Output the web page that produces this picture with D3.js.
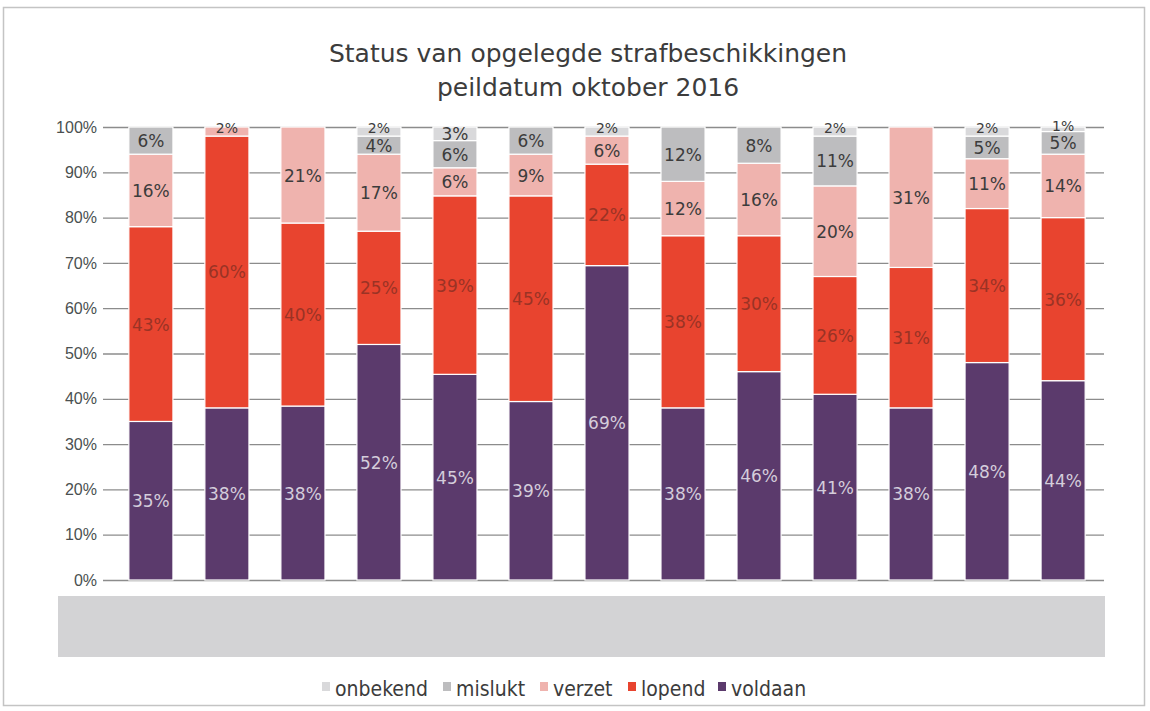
<!DOCTYPE html>
<html>
<head>
<meta charset="utf-8">
<script src="https://cdn.jsdelivr.net/npm/d3@7"></script>
<style>
  body { margin: 0; background: #fff; }
  svg { font-family: 'DejaVu Sans', Verdana, sans-serif; }
</style>
</head>
<body>
<svg width="1150" height="711"></svg>
<script>
// category names are covered in the source image
const categories = ['1', '2', '3', '4', '5', '6', '7', '8', '9', '10', '11', '12', '13'];
const voldaan  = [35, 38, 38.4, 52, 45.4, 39.4, 69.4, 38, 46, 41, 38, 48, 44];
const lopend   = [43, 60, 40.4, 25, 39.4, 45.4, 22.4, 38, 30, 26, 31, 34, 36];
const verzet   = [16,  2, 21.2, 17,  6.2,  9.2,  6.2, 12, 16, 20, 31, 11, 14];
const mislukt  = [ 6,  0,  0,  4,  6,  6,  0, 12,  8, 11,  0,  5,  5];
const onbekend = [ 0,  0,  0,  2,  3,  0,  2,  0,  0,  2,  0,  2,  1];
const seriesNames = ['voldaan', 'lopend', 'verzet', 'mislukt', 'onbekend'];
const legendOrder = ['onbekend', 'mislukt', 'verzet', 'lopend', 'voldaan'];
const yTicks = [0, 10, 20, 30, 40, 50, 60, 70, 80, 90, 100];

const colors = {
  voldaan: '#5b3a6c',
  lopend: '#e8442f',
  verzet: '#efb3ae',
  mislukt: '#bdbdbf',
  onbekend: '#d9d9db'
};
const labelColors = {
  voldaan: '#d4cddb',
  lopend: '#9a3325',
  verzet: '#3c3c3c',
  mislukt: '#3c3c3c',
  onbekend: '#3c3c3c'
};

const svg = d3.select('svg');
const values = { voldaan, lopend, verzet, mislukt, onbekend };
const rows = categories.map((c, i) => {
  const r = { cat: c };
  seriesNames.forEach(s => r[s] = values[s][i]);
  return r;
});

// frame
svg.append('rect')
    .attr('x', 3.5).attr('y', 7.5)
    .attr('width', 1141).attr('height', 698)
    .attr('fill', 'none')
    .attr('stroke', '#c4c4c4')
    .attr('stroke-width', 1.5);

svg.append('text')
    .attr('x', 588).attr('y', 62)
    .attr('text-anchor', 'middle')
    .attr('font-size', 25)
    .attr('fill', '#3c3c3c')
    .text('Status van opgelegde strafbeschikkingen');
svg.append('text')
    .attr('x', 588).attr('y', 96)
    .attr('text-anchor', 'middle')
    .attr('font-size', 25)
    .attr('fill', '#3c3c3c')
    .text('peildatum oktober 2016');

const scaleX = d3.scaleBand().domain(categories).range([103, 1111]).paddingInner(0.42).paddingOuter(0.34);
const scaleY = d3.scaleLinear().domain([0, 100]).range([580, 127]);

// gridlines + y labels
const axisY = d3.axisLeft(scaleY)
    .tickValues(yTicks)
    .tickSize(-(1104 - 103))
    .tickFormat(d => d + '%');
svg.append('g')
    .attr('transform', 'translate(103,0)')
  .call(axisY)
  .call(g => g.select('.domain').remove())
  .call(g => g.selectAll('line').attr('stroke', '#8c8c8c').attr('stroke-width', 1.3))
  .call(g => g.selectAll('text')
      .attr('x', -6)
      .attr('font-size', 16)
      .attr('fill', '#4a5050'));

const stacked = d3.stack().keys(seriesNames)(rows);

const layer = svg.append('g')
  .selectAll('g')
  .data(stacked)
  .enter()
  .append('g')
    .attr('fill', d => colors[d.key]);

layer.selectAll('rect')
  .data(d => d.filter(p => p[1] > p[0]))
  .enter()
  .append('rect')
    .attr('x', d => scaleX(d.data.cat))
    .attr('y', d => scaleY(d[1]))
    .attr('width', scaleX.bandwidth())
    .attr('height', d => scaleY(d[0]) - scaleY(d[1]))
    .attr('stroke', '#fff')
    .attr('stroke-width', 1.2);

// segment labels (tiny top segments get a smaller, slightly raised label)
stacked.forEach(s => {
  svg.append('g')
    .selectAll('text')
    .data(s.filter(p => p[1] > p[0]))
    .enter()
    .append('text')
      .attr('x', d => scaleX(d.data.cat) + scaleX.bandwidth() / 2)
      .attr('y', d => scaleY((d[0] + d[1]) / 2) + ((d[1] - d[0]) < 3 ? 1.5 : 6.5))
      .attr('text-anchor', 'middle')
      .attr('font-size', (d) => (d[1] - d[0]) < 3 ? 14 : 17)
      .attr('fill', labelColors[s.key])
      .text(d => Math.round(d[1] - d[0]) + '%');
});

// covered category label area
svg.append('rect')
    .attr('x', 58).attr('y', 596)
    .attr('width', 1047).attr('height', 61)
    .attr('fill', '#d3d3d5');

// legend
const legendPos = { onbekend: 322, mislukt: 443, verzet: 540, lopend: 628, voldaan: 718 };
const legend = svg.append('g')
  .selectAll('g')
  .data(legendOrder)
  .enter()
  .append('g')
    .attr('transform', d => `translate(${legendPos[d]},696)`);
legend.append('rect')
    .attr('x', 0).attr('y', -14)
    .attr('width', 8).attr('height', 9)
    .attr('fill', d => colors[d]);
legend.append('text')
    .attr('x', 13).attr('y', 0)
    .attr('font-size', 21)
    .attr('font-family', "'DejaVu Sans Condensed', 'DejaVu Sans', sans-serif")
    .attr('fill', '#3c3c3c')
    .text(d => d);
</script>
</body>
</html>
